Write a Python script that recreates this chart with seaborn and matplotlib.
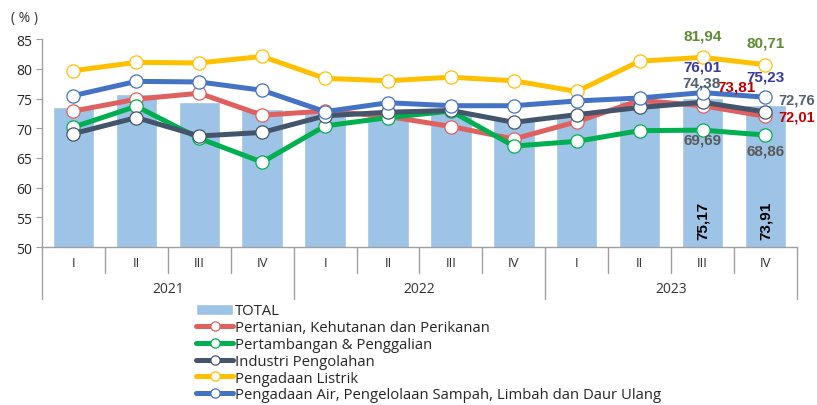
import numpy as np
import pandas as pd
import matplotlib.pyplot as plt
import seaborn as sns

years = ["2021", "2022", "2023"]
quarters = ["I", "II", "III", "IV"]
total = [73.5, 75.8, 74.4, 73.3, 72.5, 72.4, 72.6, 71.5, 72.0, 74.6, 75.17, 73.91]
pertanian = [72.9, 74.9, 75.9, 72.2, 72.9, 72.0, 70.3, 68.2, 71.1, 74.7, 73.81, 72.01]
tambang = [70.2, 73.7, 68.3, 64.3, 70.4, 71.8, 72.9, 67.0, 67.8, 69.6, 69.69, 68.86]
industri = [69.1, 71.8, 68.7, 69.3, 72.1, 72.7, 73.0, 71.0, 72.3, 73.5, 74.38, 72.76]
listrik = [79.7, 81.1, 81.0, 82.1, 78.4, 78.0, 78.6, 78.0, 76.2, 81.3, 81.94, 80.71]
air = [75.5, 77.9, 77.8, 76.4, 72.8, 74.3, 73.8, 73.8, 74.6, 75.1, 76.01, 75.23]

series = [
    ("Pertanian, Kehutanan dan Perikanan", pertanian, "#e06060"),
    ("Pertambangan & Penggalian", tambang, "#00b050"),
    ("Industri Pengolahan", industri, "#44546a"),
    ("Pengadaan Listrik", listrik, "#ffc000"),
    ("Pengadaan Air, Pengelolaan Sampah, Limbah dan Daur Ulang", air, "#4472c4"),
]

sns.set_style("white")
plt.rcParams["font.family"] = ["Open Sans", "DejaVu Sans"]

n = len(total)
df = pd.DataFrame({"pos": np.arange(n), "total": total})

fig = plt.figure(figsize=(8.17, 4.06), dpi=100)
ax = fig.add_axes([0.0514, 0.389, 0.924, 0.512])

sns.barplot(data=df, x="pos", y="total", color="#9dc3e6", saturation=1,
            width=0.66, ax=ax, label="TOTAL")

for name, vals, col in series:
    sns.lineplot(x=np.arange(n), y=vals, ax=ax, color=col, lw=3.6,
                 marker="o", markersize=9.5, markerfacecolor="white",
                 markeredgecolor=col, markeredgewidth=0.9, label=name)

ax.set_ylim(50, 85)
ax.set_xlim(-0.5, n - 0.5)
ax.set_yticks(range(50, 90, 5))
ax.tick_params(axis="y", labelsize=10, length=4, color="#a0a0a0", pad=3, left=True)
ax.set_xticks([])
ax.set_xlabel("")
ax.set_ylabel("")
for s in ["top", "right"]:
    ax.spines[s].set_visible(False)
for s in ["left", "bottom"]:
    ax.spines[s].set_color("#a0a0a0")
    ax.spines[s].set_linewidth(1)

# multi-level category axis
trans = ax.get_xaxis_transform()
for i in range(n + 1):
    x = i - 0.5
    deep = (i % 4 == 0)
    ax.plot([x, x], [0, -0.25 if deep else -0.125], transform=trans,
            color="#a0a0a0", lw=1, clip_on=False)
for i in range(n):
    ax.text(i, -0.075, quarters[i % 4], transform=trans, ha="center",
            va="center", fontsize=9.5, color="#333333")
for k, yr in enumerate(years):
    ax.text(k * 4 + 1.5, -0.2, yr, transform=trans, ha="center",
            va="center", fontsize=10, color="#333333")

fig.text(0.014, 0.955, "( % )", fontsize=10, color="#333333", va="center")


def lab(v):
    return f"{v:.2f}".replace(".", ",")


def put(i, vals, dx, dy, col, ha="center", size=11):
    ax.annotate(lab(vals[i]), (i, vals[i]), xytext=(dx, dy),
                textcoords="offset points", ha=ha, va="center",
                fontsize=size, fontweight="bold", color=col,
                family="Liberation Sans")


put(10, listrik, 0, 16, "#5e8c31")
put(11, listrik, 0, 16, "#5e8c31")
put(10, air, 0, 19, "#3a3a9a")
put(11, air, 0, 15, "#3a3a9a")
put(10, industri, -1, 14, "#526070")
put(10, pertanian, 11, 14, "#c00000", ha="left")
put(11, industri, 9, 9, "#526070", ha="left", size=10.5)
put(11, pertanian, 9, 0, "#c00000", ha="left", size=10.5)
put(10, tambang, 0, -7, "#595959")
put(11, tambang, 0, -11, "#595959")
for i in [10, 11]:
    ax.annotate(lab(total[i]), (i, 54.5), ha="center", va="center",
                rotation=90, fontsize=11, fontweight="bold", color="black",
                family="Liberation Sans")

handles, labels = ax.get_legend_handles_labels()
if ax.legend_:
    ax.legend_.remove()
handles = handles[-1:] + handles[:-1]
labels = labels[-1:] + labels[:-1]
fig.legend(handles, labels, loc="upper left", bbox_to_anchor=(0.240, 0.250),
           frameon=False, fontsize=10.7, handlelength=2.5, handletextpad=0.1,
           labelspacing=0.12, borderpad=0, borderaxespad=0, markerscale=0.7)

fig.savefig("out.png", dpi=100)
